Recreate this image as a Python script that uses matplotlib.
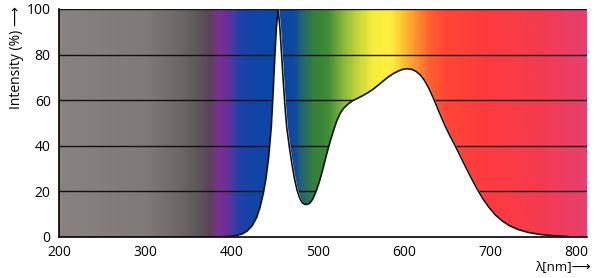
import matplotlib
matplotlib.use("Agg")
import matplotlib.pyplot as plt
import numpy as np
from matplotlib.colors import LinearSegmentedColormap

# LED spectrum (nm, %)
wavelength = [380, 395, 405, 412, 418, 424, 429, 433, 437, 440, 443, 446,
              448, 450, 452, 454, 456, 458, 460, 462, 464, 467, 470, 473,
              476, 479, 482, 485, 488, 491, 494, 498, 502, 506, 510, 514,
              518, 522, 526, 530, 535, 540, 546, 552, 558, 564, 570, 576,
              582, 588, 594, 599, 604, 609, 614, 619, 624, 629, 635, 641,
              647, 653, 659, 665, 671, 677, 684, 691, 698, 706, 714, 722,
              732, 744, 758, 772, 786, 795]
intensity = [0, 0.2, 0.6, 1.3, 2.6, 5, 8.5, 13, 19.5, 26, 35, 48,
             62, 78, 92, 100, 92, 80, 68, 57, 48, 39.5, 32, 25.5,
             20.5, 17, 15, 14.3, 14.3, 15, 16.6, 20, 24.5, 30, 36, 41.5,
             46.5, 51, 54.3, 56.5, 58.3, 59.7, 60.8, 62, 63.3, 64.8, 66.6, 68.5,
             70.3, 71.8, 72.9, 73.6, 73.8, 73.5, 72.6, 71, 68.5, 65, 60, 54.5,
             49.2, 44.5, 40.2, 35.6, 31, 26.5, 21.5, 17, 13.2, 9.6, 7, 5,
             3.3, 2, 1.1, 0.6, 0.3, 0]
xticks = [200, 300, 400, 500, 600, 700, 800]
yticks = [0, 20, 40, 60, 80, 100]

xmin, xmax = 200, 812

# spectrum background colours
spec = [(200, '#888381'), (300, '#7f7a77'), (340, '#6c6666'), (362, '#5c5656'),
        (374, '#5a4258'), (384, '#7a3090'), (394, '#6a2e98'), (400, '#4a3aa0'),
        (410, '#1c40a8'), (440, '#0c46a6'), (472, '#0d48a0'), (482, '#24656f'),
        (495, '#357f3c'), (512, '#3f8c35'), (530, '#8ab83a'), (548, '#c8d83a'),
        (565, '#f8ee3c'), (585, '#fff040'), (600, '#ffc030'), (615, '#ff9030'),
        (630, '#ff6030'), (650, '#ff4535'), (700, '#ff3a40'), (760, '#f53a50'),
        (812, '#e84070')]
cmap = LinearSegmentedColormap.from_list(
    'spec', [((w - xmin) / (xmax - xmin), c) for w, c in spec])

fig = plt.figure(figsize=(6, 2.78), dpi=100)
ax = fig.add_axes([59 / 600, 41 / 278, 528 / 600, 228 / 278])

grad = np.linspace(0, 1, 600).reshape(1, -1)
ax.imshow(grad, cmap=cmap, aspect='auto', extent=[xmin, xmax, 0, 100],
          zorder=0, interpolation='bilinear')

for y in yticks[1:]:
    ax.axhline(y, color='#111111', lw=1.0, zorder=1)

ax.fill_between(wavelength, intensity, 0, color='white', zorder=2)
ax.plot(wavelength, intensity, color='#111111', lw=1.2, zorder=3)

ax.set_xlim(xmin, xmax)
ax.set_ylim(0, 100)
ax.set_xticks(xticks)
ax.set_yticks(yticks)
ax.tick_params(axis='x', length=0, labelsize=10, pad=6)
ax.tick_params(axis='y', length=0, labelsize=10, pad=6)
for lab in ax.get_xticklabels() + ax.get_yticklabels():
    lab.set_family('Open Sans')
ax.spines['right'].set_visible(False)
ax.spines['top'].set_visible(False)
ax.spines['left'].set_linewidth(1.2)
ax.spines['bottom'].set_linewidth(1.2)

fig.text(17 / 600, 1 - 6 / 278, 'Intensity (%) \u27f6', rotation=90,
         ha='center', va='top', fontsize=10,
         family=['Open Sans', 'DejaVu Sans'])
fig.text(591 / 600, 1 - 267 / 278, '\u03bb[nm]\u27f6', ha='right',
         va='center', fontsize=9.5, family=['Open Sans', 'DejaVu Sans'])

plt.savefig('out.png', dpi=100)
